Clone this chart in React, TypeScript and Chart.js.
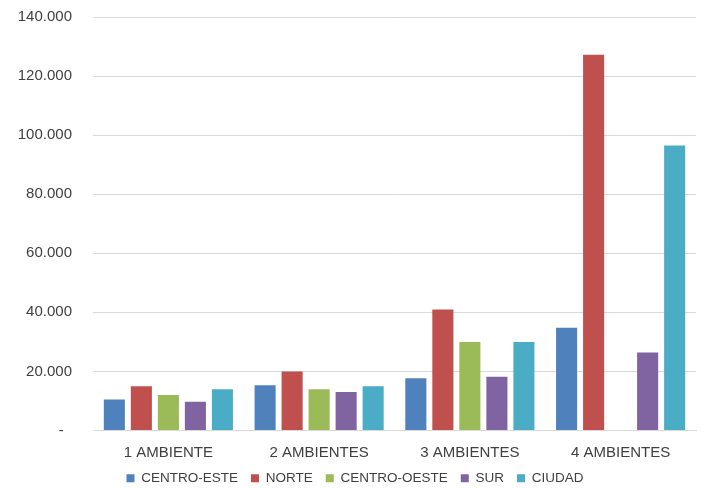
import React, { useEffect, useRef } from "react";
import { Chart, registerables } from "chart.js";

Chart.register(...registerables);

const categories = ["1 AMBIENTE", "2 AMBIENTES", "3 AMBIENTES", "4 AMBIENTES"];
const seriesNames = ["CENTRO-ESTE", "NORTE", "CENTRO-OESTE", "SUR", "CIUDAD"];
const centroEste = [10500, 15300, 17700, 34800];
const norte = [15000, 20000, 41000, 127200];
const centroOeste = [12000, 14000, 30000, null];
const sur = [9700, 13000, 18200, 26400];
const ciudad = [14000, 15000, 30000, 96500];
const seriesColors = ["#4F81BD", "#C0504D", "#9BBB59", "#8064A2", "#4BACC6"];
const yMax = 140000;
const yStep = 20000;

const FONT = "'Liberation Sans', Arial, Helvetica, sans-serif";

function fmt(v: number): string {
  if (v === 0) return "-  ";
  return String(Math.round(v)).replace(/\B(?=(\d{3})+(?!\d))/g, ".");
}

export default function App() {
  const ref = useRef<HTMLCanvasElement | null>(null);
  useEffect(() => {
    if (!ref.current) return;
    const data = [centroEste, norte, centroOeste, sur, ciudad];
    const chart = new Chart(ref.current, {
      type: "bar",
      data: {
        labels: categories,
        datasets: seriesNames.map((name, i) => ({
          label: name,
          data: data[i],
          backgroundColor: seriesColors[i],
          borderWidth: 0,
          categoryPercentage: 0.896,
          barPercentage: 0.78,
        })),
      },
      options: {
        animation: false,
        responsive: true,
        maintainAspectRatio: false,
        layout: { padding: { top: 17, right: 11, bottom: -7, left: 14 } },
        plugins: {
          legend: {
            position: "bottom",
            labels: {
              boxWidth: 8,
              boxHeight: 8,
              padding: 13,
              color: "#404040",
              font: { family: FONT, size: 13.5 },
            },
          },
          tooltip: { enabled: false },
        },
        scales: {
          x: {
            afterFit: (scale: any) => {
              scale.height = 28;
            },
            grid: { display: false, drawTicks: false },
            border: { color: "#D9D9D9", width: 1 },
            ticks: {
              color: "#404040",
              padding: 13,
              font: { family: FONT, size: 15 },
            },
          },
          y: {
            min: 0,
            max: yMax,
            afterFit: (scale: any) => {
              scale.width = 79;
              scale.paddingTop = 0;
              scale.paddingBottom = 0;
            },
            grid: { color: "#D9D9D9", drawTicks: false },
            border: { display: false },
            ticks: {
              stepSize: yStep,
              color: "#404040",
              padding: 21,
              font: { family: FONT, size: 15 },
              callback: (v: any) => fmt(Number(v)),
            },
          },
        },
      },
    });
    return () => chart.destroy();
  }, []);
  return (
    <div style={{ position: "absolute", left: 0, top: 0, width: 707, height: 488, background: "#fff" }}>
      <canvas ref={ref} />
    </div>
  );
}
